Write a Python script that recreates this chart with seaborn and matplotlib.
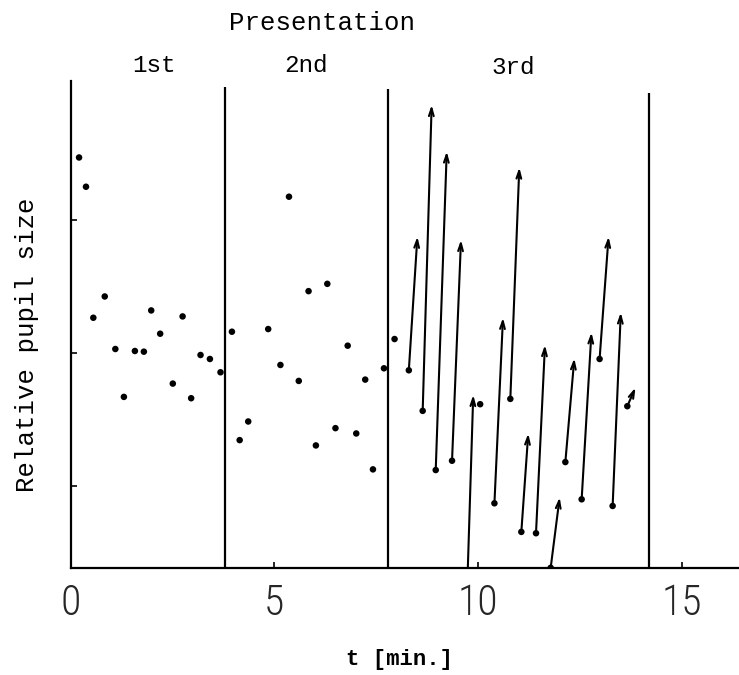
import matplotlib
matplotlib.use("Agg")
import matplotlib.pyplot as plt
import pandas as pd
import seaborn as sns
from matplotlib.patches import FancyArrowPatch

# Single readings (t in minutes, relative pupil size)
t_points = [0.21, 0.38, 0.56, 0.84, 1.10, 1.31, 1.58, 1.80, 1.98, 2.20, 2.51, 2.75,
            2.96, 3.19, 3.42, 3.68, 3.96, 4.15, 4.36, 4.85, 5.15, 5.36, 5.60, 5.84,
            6.02, 6.30, 6.50, 6.80, 7.01, 7.23, 7.42, 7.69, 7.95, 10.05]
size_points = [1.294, 1.250, 1.053, 1.085, 1.006, 0.934, 1.003, 1.002, 1.064, 1.029,
               0.954, 1.055, 0.932, 0.997, 0.991, 0.971, 1.032, 0.869, 0.897, 1.036,
               0.982, 1.235, 0.958, 1.093, 0.861, 1.104, 0.887, 1.011, 0.879, 0.960,
               0.825, 0.977, 1.021, 0.923]

# Changes during the 3rd presentation: start reading -> end reading
arrow_t0 = [8.30, 8.64, 8.96, 9.36, 9.74, 10.40, 10.79, 11.06, 11.42, 11.78,
            12.14, 12.54, 12.98, 13.30, 13.66]
arrow_y0 = [0.974, 0.913, 0.824, 0.838, 0.662, 0.774, 0.931, 0.731, 0.729, 0.677,
            0.836, 0.780, 0.991, 0.770, 0.920]
arrow_t1 = [8.51, 8.86, 9.23, 9.58, 9.88, 10.61, 11.01, 11.23, 11.64, 12.00,
            12.36, 12.78, 13.20, 13.50, 13.86]
arrow_y1 = [1.175, 1.373, 1.303, 1.170, 0.937, 1.053, 1.279, 0.879, 1.012, 0.783,
            0.992, 1.031, 1.175, 1.061, 0.948]

# End of each presentation (min) and the height of its marker line
presentation_end = [3.79, 7.79, 14.20]
presentation_top = [1.400, 1.397, 1.391]
presentation_names = ["1st", "2nd", "3rd"]

x_ticks = [0, 5, 10, 15]
y_ticks = [0.8, 1.0, 1.2]

W, H = 739, 675
MONO = ["Liberation Mono", "DejaVu Sans Mono"]
NARROW = ["Roboto Condensed", "Liberation Sans Narrow", "DejaVu Sans"]

sns.set_style("ticks")
plt.rcParams["font.family"] = MONO

fig = plt.figure(figsize=(W / 100, H / 100), dpi=100)
ax = fig.add_axes([70.5 / W, (H - 568) / H, 1 - 70.5 / W, (568 - 81) / H])
ax.set_xlim(0, 16.40)
ax.set_ylim(0.6767, 1.409)

points = pd.DataFrame({"t": t_points, "size": size_points})
sns.scatterplot(data=points, x="t", y="size", ax=ax, color="black", s=22,
                edgecolor="none", zorder=3)

starts = pd.DataFrame({"t": arrow_t0, "size": arrow_y0})
sns.scatterplot(data=starts, x="t", y="size", ax=ax, color="black", s=22,
                edgecolor="none", zorder=3)

for x0, y0, x1, y1 in zip(arrow_t0, arrow_y0, arrow_t1, arrow_y1):
    arr = FancyArrowPatch((x0, y0), (x1, y1),
                          arrowstyle="->,head_length=0.55,head_width=0.17",
                          mutation_scale=10, shrinkA=0, shrinkB=0,
                          color="black", linewidth=1.5)
    ax.add_patch(arr)

ax.vlines(presentation_end, ax.get_ylim()[0], presentation_top,
          color="black", linewidth=1.6)

for side in ("top", "right"):
    ax.spines[side].set_visible(False)
for side in ("left", "bottom"):
    ax.spines[side].set_linewidth(1.6)
    ax.spines[side].set_color("black")

ax.set_xticks(x_ticks)
ax.set_xticklabels([str(v) for v in x_ticks], fontfamily=NARROW, fontsize=30,
                   fontstretch="condensed", fontweight="light")
ax.set_yticks(y_ticks)
ax.set_yticklabels([])
ax.tick_params(axis="both", direction="in", length=4, width=1.2, color="black")
ax.tick_params(axis="x", pad=11)
ax.set_xlabel("")
ax.set_ylabel("")


def px_text(x, y, s, **kw):
    fig.text(x / W, 1 - y / H, s, color="black", **kw)


px_text(322, 30, "Presentation", fontsize=18.5, ha="center", va="baseline")
px_text(154, 72, presentation_names[0], fontsize=17.5, ha="center", va="baseline")
px_text(306, 72, presentation_names[1], fontsize=17.5, ha="center", va="baseline")
px_text(513, 74, presentation_names[2], fontsize=17.5, ha="center", va="baseline")
px_text(27, 345, "Relative pupil size", fontsize=18.5, rotation=90,
        ha="center", va="center")
px_text(400, 665, "t [min.]", fontsize=16, ha="center", va="baseline",
        fontweight="bold")

fig.savefig("out.png", dpi=100)
